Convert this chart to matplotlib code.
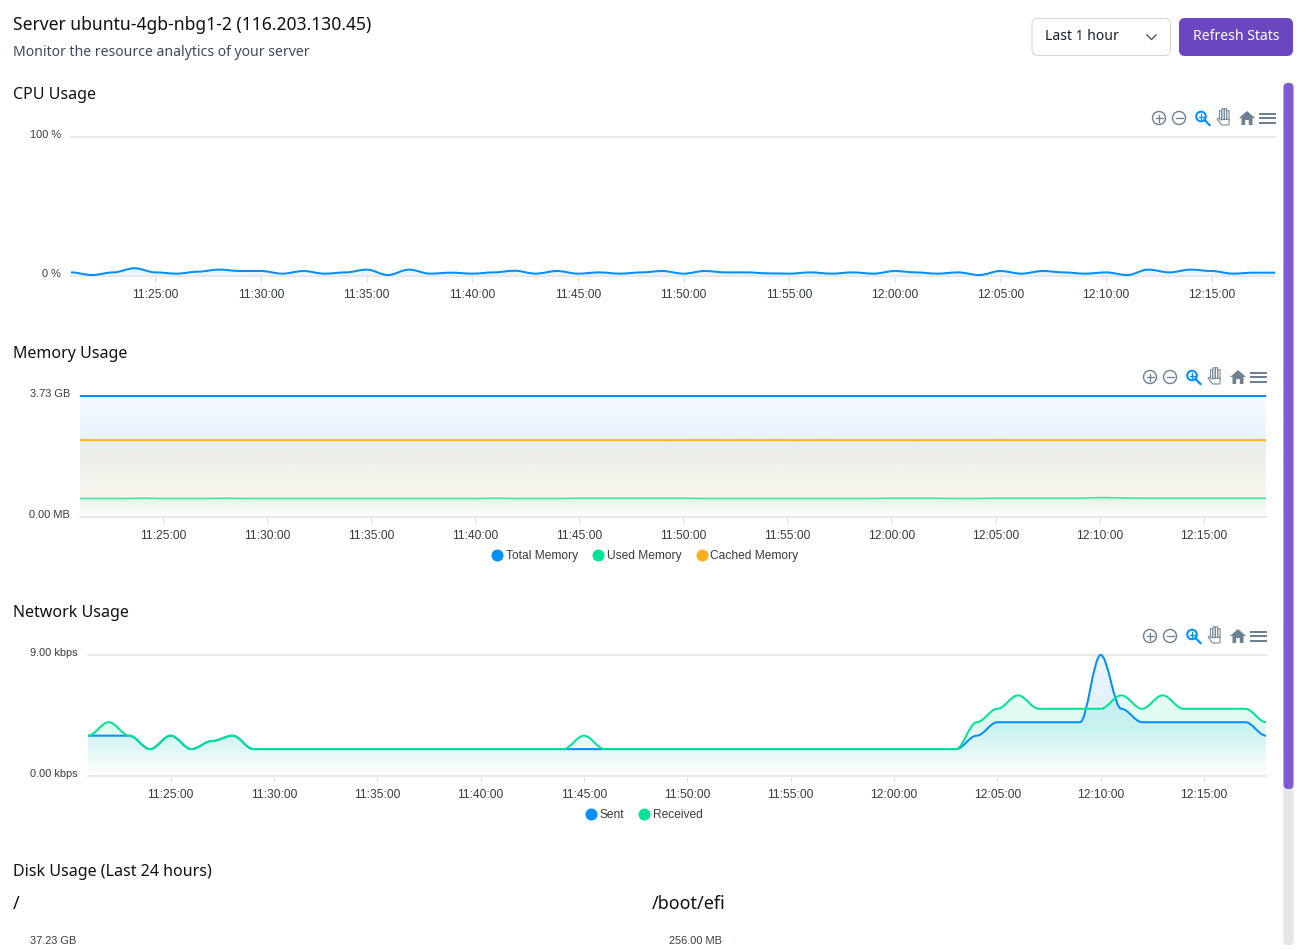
import numpy as np
import matplotlib
matplotlib.use("Agg")
import matplotlib.pyplot as plt
from matplotlib.lines import Line2D
from matplotlib.patches import Circle, FancyBboxPatch, PathPatch, Polygon, Rectangle
from matplotlib.path import Path
from matplotlib.transforms import ScaledTranslation

W, H = 1306, 950
DPI = 100

# one sample per minute, 11:21 -> 12:18
minutes = list(range(58))
tick_pos = [4, 9, 14, 19, 24, 29, 34, 39, 44, 49, 54]
tick_labels = ["11:25:00", "11:30:00", "11:35:00", "11:40:00", "11:45:00", "11:50:00",
               "11:55:00", "12:00:00", "12:05:00", "12:10:00", "12:15:00"]

cpu = [2.6, 0.7, 2.6, 5.6, 2.6, 1.7, 3.1, 4.6, 3.6, 3.6, 1.7, 3.6, 1.7, 2.6, 4.6, 0.7, 4.6, 1.7, 2.4,
       1.7, 2.6, 3.8, 1.7, 3.6, 1.7, 2.6, 1.7, 2.6, 3.6, 1.7, 3.6, 2.6, 2.6, 1.9, 1.7, 2.6, 1.7, 2.6, 1.7,
       3.6, 2.6, 1.7, 2.6, 0.7, 3.6, 1.7, 3.6, 2.6, 1.7, 2.6, 0.7, 4.6, 2.6, 4.6, 3.6, 1.7, 2.4, 2.4]

mem_total = [3.73, 3.73, 3.73, 3.73, 3.73, 3.73, 3.73, 3.73, 3.73, 3.73, 3.73, 3.73, 3.73, 3.73, 3.73,
             3.73, 3.73, 3.73, 3.73, 3.73, 3.73, 3.73, 3.73, 3.73, 3.73, 3.73, 3.73, 3.73, 3.73, 3.73,
             3.73, 3.73, 3.73, 3.73, 3.73, 3.73, 3.73, 3.73, 3.73, 3.73, 3.73, 3.73, 3.73, 3.73, 3.73,
             3.73, 3.73, 3.73, 3.73, 3.73, 3.73, 3.73, 3.73, 3.73, 3.73, 3.73, 3.73, 3.73]
mem_used = [0.57, 0.57, 0.57, 0.58, 0.57, 0.57, 0.57, 0.58, 0.57, 0.57, 0.57, 0.57, 0.57, 0.57, 0.57,
            0.57, 0.57, 0.57, 0.57, 0.57, 0.58, 0.57, 0.57, 0.57, 0.58, 0.58, 0.58, 0.58, 0.58, 0.58,
            0.57, 0.57, 0.57, 0.57, 0.57, 0.57, 0.57, 0.57, 0.57, 0.58, 0.58, 0.58, 0.57, 0.57, 0.58,
            0.58, 0.58, 0.58, 0.58, 0.60, 0.59, 0.58, 0.58, 0.58, 0.58, 0.58, 0.58, 0.58]
mem_cached = [2.37, 2.37, 2.37, 2.37, 2.37, 2.37, 2.37, 2.37, 2.37, 2.37, 2.37, 2.37, 2.37, 2.37, 2.37,
              2.37, 2.37, 2.37, 2.37, 2.37, 2.37, 2.37, 2.37, 2.37, 2.37, 2.37, 2.37, 2.37, 2.37, 2.37,
              2.37, 2.37, 2.37, 2.37, 2.37, 2.37, 2.37, 2.37, 2.37, 2.37, 2.37, 2.37, 2.37, 2.37, 2.37,
              2.37, 2.37, 2.37, 2.37, 2.37, 2.37, 2.37, 2.37, 2.37, 2.37, 2.37, 2.37, 2.37]

net_sent = [3, 3, 3, 2, 3, 2, 2.6, 3, 2, 2, 2, 2, 2, 2, 2, 2, 2, 2, 2, 2, 2, 2, 2, 2, 2, 2, 2, 2, 2,
            2, 2, 2, 2, 2, 2, 2, 2, 2, 2, 2, 2, 2, 2, 3, 4, 4, 4, 4, 4, 9, 5, 4, 4, 4, 4, 4, 4, 3]
net_recv = [3, 4, 3, 2, 3, 2, 2.6, 3, 2, 2, 2, 2, 2, 2, 2, 2, 2, 2, 2, 2, 2, 2, 2, 2, 3, 2, 2, 2, 2,
            2, 2, 2, 2, 2, 2, 2, 2, 2, 2, 2, 2, 2, 2, 4, 5, 6, 5, 5, 5, 5, 6, 5, 6, 5, 5, 5, 5, 4]

BLUE = "#008FFB"
GREEN = "#00E396"
ORANGE = "#FEB019"
LINE_GREY = "#E9E9EC"
TICK_GREY = "#E0E0E0"
LABEL = "#373D3F"
ICON = "#6E8192"
UI_FONT = ["Noto Sans", "DejaVu Sans"]
CHART_FONT = ["Liberation Sans", "DejaVu Sans"]


def px(n):
    return n * 72 / DPI


def smooth_path(x, y):
    # horizontal handles at every sample, same shape the original chart lib draws
    verts = [(x[0], y[0])]
    codes = [Path.MOVETO]
    for i in range(1, len(x)):
        d = (x[i] - x[i - 1]) * 0.35
        verts += [(x[i - 1] + d, y[i - 1]), (x[i] - d, y[i]), (x[i], y[i])]
        codes += [Path.CURVE4, Path.CURVE4, Path.CURVE4]
    return Path(verts, codes)


def gradient_fill(ax, x, y, color, stops, zorder):
    path = smooth_path(x, y)
    closed = Path(list(path.vertices) + [(x[-1], 0), (x[0], 0), (x[0], y[0])],
                  list(path.codes) + [Path.LINETO, Path.LINETO, Path.LINETO])
    top = max(y)
    t = np.linspace(0, 1, 256)
    alpha = np.interp(t, [s[0] for s in stops], [s[1] for s in stops])
    img = np.zeros((256, 1, 4))
    img[:, 0, :3] = matplotlib.colors.to_rgb(color)
    img[:, 0, 3] = alpha
    im = ax.imshow(img, extent=(x[0], x[-1], 0, top), origin="upper", aspect="auto",
                   interpolation="bilinear", zorder=zorder)
    patch = PathPatch(closed, transform=ax.transData, fc="none", ec="none")
    ax.add_patch(patch)
    im.set_clip_path(patch)


def draw_line(ax, x, y, color, zorder, lw=2):
    ax.add_patch(PathPatch(smooth_path(x, y), fc="none", ec=color, lw=px(lw),
                           clip_on=False, zorder=zorder, capstyle="butt"))


def make_chart(left, top, right, bottom, ymax, ylabels):
    ax = fig.add_axes([left / W, 1 - bottom / H, (right - left) / W, (bottom - top) / H])
    ax.set_xlim(minutes[0], minutes[-1])
    ax.set_ylim(0, ymax)
    for s in ["top", "left", "right"]:
        ax.spines[s].set_visible(False)
    ax.spines["bottom"].set_color(LINE_GREY)
    ax.spines["bottom"].set_linewidth(px(2))
    ax.set_xticks(tick_pos)
    ax.set_xticklabels(tick_labels, fontsize=px(12), color=LABEL, family=CHART_FONT)
    ax.tick_params(axis="x", length=px(6), width=px(1), color=TICK_GREY, pad=px(7))
    ax.set_yticks([0, ymax])
    ax.set_yticklabels(ylabels, fontsize=px(11), color=LABEL, family=CHART_FONT)
    ax.tick_params(axis="y", length=0, pad=px(10))
    shift = ScaledTranslation(0, 3 / DPI, fig.dpi_scale_trans)
    for lab in ax.get_yticklabels():
        lab.set_transform(lab.get_transform() + shift)
    ax.grid(axis="y", color=LINE_GREY, lw=px(2), clip_on=False)
    ax.set_axisbelow(True)
    ax.patch.set_alpha(0)
    return ax


def chart_legend(ax, names, colors, cx, cy):
    handles = [Line2D([], [], ls="none", marker="o", ms=px(12), color=c, mew=0) for c in colors]
    ax.legend(handles, names, loc="center", bbox_to_anchor=(cx / W, 1 - cy / H),
              bbox_transform=fig.transFigure, ncol=len(names), frameon=False, handlelength=0.9,
              handletextpad=0.25, columnspacing=1.25, borderpad=0,
              prop={"family": CHART_FONT, "size": px(12)}, labelcolor=LABEL)


def toolbar(x0, cy):
    # x0 is the centre of the plus icon, the others sit at fixed offsets
    for cx, has_bar in [(x0, True), (x0 + 20, False)]:
        ui.add_patch(Circle((cx, cy), 6.5, fc="none", ec=ICON, lw=px(1.4)))
        ui.plot([cx - 3.5, cx + 3.5], [cy, cy], color=ICON, lw=px(1.3))
        if has_bar:
            ui.plot([cx, cx], [cy - 3.5, cy + 3.5], color=ICON, lw=px(1.3))
    # zoom glass
    zx = x0 + 42
    ui.add_patch(Circle((zx, cy - 1.5), 4.8, fc="none", ec=BLUE, lw=px(2)))
    ui.plot([zx + 3.5, zx + 8.5], [cy + 2, cy + 7], color=BLUE, lw=px(2.2))
    ui.plot([zx - 2.5, zx + 2.5], [cy - 1.5, cy - 1.5], color=BLUE, lw=px(1.3))
    ui.plot([zx, zx], [cy - 4, cy + 1], color=BLUE, lw=px(1.3))
    # hand
    hx = x0 + 65
    for dx, h in [(-3.5, 9), (-1, 11), (1.5, 11), (4, 9)]:
        ui.add_patch(FancyBboxPatch((hx + dx - 0.8, cy - h + 2), 1.6, h, boxstyle="round,pad=0.3",
                                    fc="white", ec=ICON, lw=px(1)))
    ui.add_patch(Polygon([(hx - 7, cy + 1), (hx - 4.5, cy), (hx - 4, cy + 2), (hx + 5, cy + 1),
                          (hx + 5, cy + 7), (hx - 2.5, cy + 7)], closed=True, fc="white", ec=ICON,
                         lw=px(1)))
    # home
    mx = x0 + 88
    ui.add_patch(Polygon([(mx - 8, cy), (mx, cy - 7), (mx + 8, cy), (mx + 5.5, cy), (mx + 5.5, cy + 7),
                          (mx + 1.8, cy + 7), (mx + 1.8, cy + 2), (mx - 1.8, cy + 2), (mx - 1.8, cy + 7),
                          (mx - 5.5, cy + 7), (mx - 5.5, cy)], closed=True, fc=ICON, ec="none"))
    # menu
    bx = x0 + 108
    for dy in [-4.5, 0, 4.5]:
        ui.plot([bx - 7.5, bx + 7.5], [cy + dy, cy + dy], color=ICON, lw=px(2))


fig = plt.figure(figsize=(W / DPI, H / DPI), dpi=DPI, facecolor="white")

# CPU
ax_cpu = make_chart(71, 137, 1275, 276, 100, ["0 %", "100 %"])
gradient_fill(ax_cpu, minutes, cpu, BLUE, [(0, 0.1), (1, 0.08)], 2)
draw_line(ax_cpu, minutes, cpu, BLUE, 3)

# Memory
ax_mem = make_chart(80, 396, 1266, 517, 3.73, ["0.00 MB", "3.73 GB"])
gradient_fill(ax_mem, minutes, mem_total, BLUE, [(0, 0.04), (0.36, 0.1), (1, 0.0)], 2)
gradient_fill(ax_mem, minutes, mem_used, GREEN, [(0, 0.1), (1, 0.0)], 2)
gradient_fill(ax_mem, minutes, mem_cached, ORANGE, [(0, 0.09), (0.7, 0.08), (1, 0.0)], 2)
draw_line(ax_mem, minutes, mem_total, BLUE, 3)
draw_line(ax_mem, minutes, mem_used, "#3FE3A6", 3, lw=1.6)
draw_line(ax_mem, minutes, mem_cached, ORANGE, 3)
chart_legend(ax_mem, ["Total Memory", "Used Memory", "Cached Memory"], [BLUE, GREEN, ORANGE], 645, 556)

# Network
ax_net = make_chart(88, 655, 1266, 776, 9, ["0.00 kbps", "9.00 kbps"])
gradient_fill(ax_net, minutes, net_sent, BLUE, [(0, 0.08), (0.45, 0.12), (1, 0.0)], 2)
gradient_fill(ax_net, minutes, net_recv, GREEN, [(0, 0.1), (0.4, 0.14), (1, 0.0)], 2)
draw_line(ax_net, minutes, net_sent, BLUE, 3)
draw_line(ax_net, minutes, net_recv, GREEN, 4)
chart_legend(ax_net, ["Sent", "Received"], [BLUE, GREEN], 644, 815)

# page furniture in pixel coordinates
ui = fig.add_axes([0, 0, 1, 1], zorder=10)
ui.set_xlim(0, W)
ui.set_ylim(H, 0)
ui.axis("off")

ui.text(13, 25.5, "Server ubuntu-4gb-nbg1-2 (116.203.130.45)", fontsize=px(17.5), weight="semibold",
        family=UI_FONT, color="#111111", va="center")
ui.text(13, 53, "Monitor the resource analytics of your server", fontsize=px(14), family=UI_FONT,
        color="#3E4A5C", va="center")

section_names = ["CPU Usage", "Memory Usage", "Network Usage", "Disk Usage (Last 24 hours)"]
section_y = [95, 354, 613, 872]
for name, y in zip(section_names, section_y):
    ui.text(13, y, name, fontsize=px(16), weight="medium", family=UI_FONT, color="#111111", va="center")

disk_names = ["/", "/boot/efi"]
disk_x = [13, 652]
for name, x in zip(disk_names, disk_x):
    ui.text(x, 904, name, fontsize=px(18), weight="semibold", family=UI_FONT, color="#111111", va="center")

ui.text(30, 941, "37.23 GB", fontsize=px(11), family=CHART_FONT, color=LABEL, va="center")
ui.text(669, 941, "256.00 MB", fontsize=px(11), family=CHART_FONT, color=LABEL, va="center")

# select + button
ui.add_patch(FancyBboxPatch((1038, 24.5), 126.5, 25, boxstyle="round,pad=6", fc="white", ec="#D4D4DC", lw=px(1)))
ui.text(1045, 37, "Last 1 hour", fontsize=px(14), family=UI_FONT, color="#1A202C", va="center")
ui.plot([1147, 1151.5, 1156], [35, 39.5, 35], color="#5A6270", lw=px(1.5))
ui.add_patch(FancyBboxPatch((1185, 24), 102, 26, boxstyle="round,pad=6", fc="#6B46C1", ec="none"))
ui.text(1236, 37, "Refresh Stats", fontsize=px(14), weight="bold", family=UI_FONT, color="white",
        va="center", ha="center")

toolbar(1159, 118)
toolbar(1150, 377)
toolbar(1150, 636)

# scrollbar
ui.add_patch(FancyBboxPatch((1288, 87), 1, 854, boxstyle="round,pad=4.5", fc="#E5E5EA", ec="none"))
ui.add_patch(FancyBboxPatch((1288, 87.5), 1, 697, boxstyle="round,pad=4.5", fc="#805AD5", ec="none"))

# page is cut off here by the scroll container
ui.add_patch(Rectangle((0, 945), W, 5, fc="white", ec="none", zorder=20))

fig.savefig("out.png", dpi=DPI, facecolor="white")
